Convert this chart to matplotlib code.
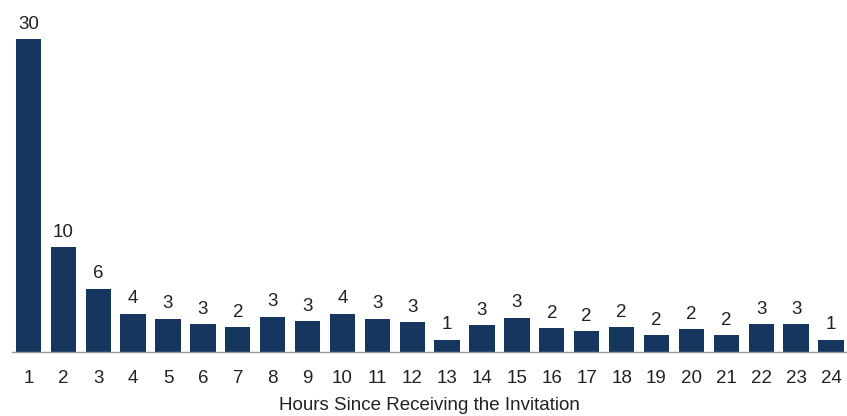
import matplotlib.pyplot as plt

# hours since invitation and share of responses (%)
hours = list(range(1, 25))
share = [30.1, 10.1, 6.1, 3.7, 3.2, 2.7, 2.4, 3.4, 3.0, 3.7, 3.2, 2.9,
         1.2, 2.6, 3.3, 2.3, 2.0, 2.4, 1.6, 2.2, 1.6, 2.7, 2.7, 1.2]
tick_labels = [str(h) for h in hours]

plt.rcParams['font.family'] = ['Liberation Sans', 'DejaVu Sans']

fig = plt.figure(figsize=(8.47, 4.16), dpi=100)
ax = fig.add_axes([0.0138, 0.1538, 0.9862, 0.8462])

bars = ax.bar(hours, share, width=0.725, color='#15365f')
for b, v in zip(bars, share):
    ax.annotate(f"{v:.0f}", (b.get_x() + b.get_width() / 2, v),
                xytext=(0, 4.5), textcoords='offset points',
                ha='center', va='bottom', fontsize=13.5, color='#222222')

ax.set_xlim(0.52, 24.46)
ax.set_ylim(0, 33.85)
ax.set_xticks(hours)
ax.set_xticklabels(tick_labels)
ax.tick_params(axis='x', length=0, pad=13, labelsize=13.5, labelcolor='#222222')
ax.set_yticks([])
for s in ['top', 'right', 'left']:
    ax.spines[s].set_visible(False)
ax.spines['bottom'].set_color('#9a9a9a')
ax.spines['bottom'].set_linewidth(1.0)
ax.set_xlabel("Hours Since Receiving the Invitation", fontsize=13.5,
              color='#222222', labelpad=7.5)

fig.savefig("out.png", dpi=100)
